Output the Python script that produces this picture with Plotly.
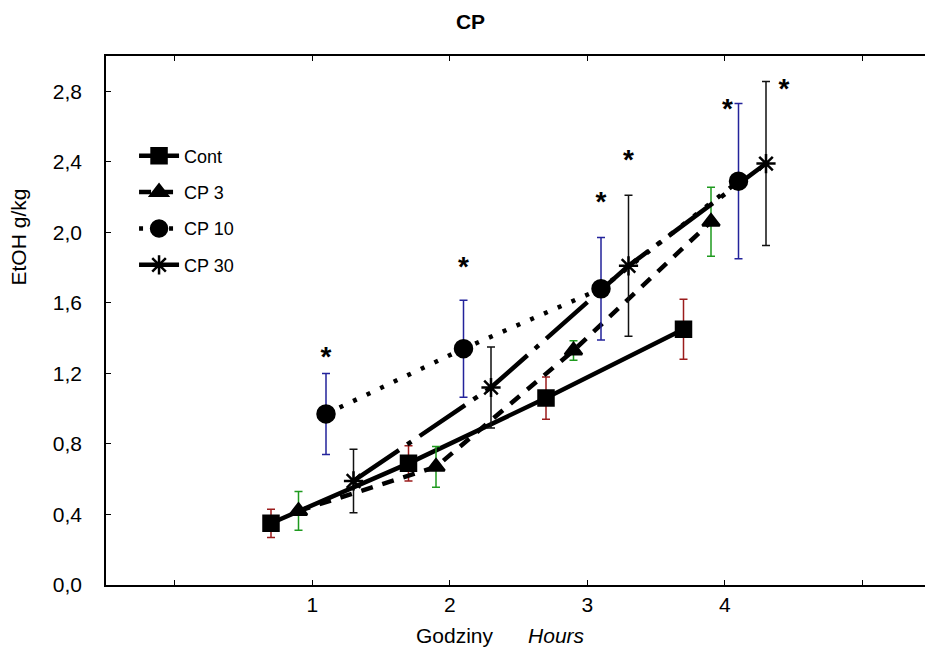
import plotly.graph_objects as go

# Measured EtOH (g/kg) at each hour, per group
hours = [1, 2, 3, 4]
offsets = {"Cont": -0.3, "CP 3": -0.1, "CP 10": 0.1, "CP 30": 0.3}

cont = [0.35, 0.69, 1.06, 1.45]
cont_err = [0.08, 0.10, 0.12, 0.17]

cp3 = [0.42, 0.67, 1.33, 2.06]
cp3_err = [0.11, 0.115, 0.055, 0.195]

cp10 = [0.97, 1.34, 1.68, 2.29]
cp10_err = [0.23, 0.275, 0.29, 0.44]

cp30 = [0.59, 1.12, 1.81, 2.39]
cp30_err = [0.18, 0.23, 0.40, 0.465]

# significance marks (*) above CP 10 / CP 30
star_x = [1.1, 2.1, 3.1, 3.3, 4.02, 4.43]
star_y = [1.28, 1.79, 2.16, 2.40, 2.69, 2.80]

series = [
    ("Cont", cont, cont_err, "square", "solid", "#9b1c1c", 15),
    ("CP 3", cp3, cp3_err, "triangle-up", "12px,10px", "#1f9a1f", 15),
    ("CP 10", cp10, cp10_err, "circle", "4px,11px", "#23239b", 17),
    ("CP 30", cp30, cp30_err, "asterisk-open", "55px,10px,5px,10px", "#111111", 16),
]

fig = go.Figure()

for name, vals, errs, sym, dash, ecol, msize in series:
    xs = [h + offsets[name] for h in hours]
    fig.add_trace(go.Scatter(
        x=xs, y=vals, name=name, mode="lines+markers", legendgroup=name,
        line=dict(color="black", width=4.5, dash=dash),
        marker=dict(symbol=sym, size=msize, color="black",
                    line=dict(color="black", width=2.5)),
        error_y=dict(type="data", array=errs, visible=True,
                     color=ecol, thickness=1.5, width=4),
    ))

fig.add_trace(go.Scatter(
    x=star_x, y=star_y, mode="text", text=["<b>*</b>"] * len(star_x),
    textfont=dict(size=28, color="black", family="Liberation Sans"),
    showlegend=False, hoverinfo="skip",
))

# page is drawn with an 8px body margin, so size the figure to fit the window
fig.update_layout(
    width=925, height=643,
    paper_bgcolor="white", plot_bgcolor="white",
    margin=dict(l=98, r=0, t=48, b=66),
    separators=", ",
    font=dict(family="Liberation Sans, Arial", size=20, color="black"),
    title=dict(text="<b>CP</b>", x=0.5, xanchor="center", y=0.978,
               yanchor="middle", font=dict(size=21)),
    showlegend=True,
    legend=dict(x=0.034, y=0.846, xanchor="left", yanchor="top",
                bgcolor="rgba(0,0,0,0)", font=dict(size=18),
                tracegroupgap=10, itemwidth=40),
    annotations=[
        dict(text="Godziny      <i>Hours</i>", xref="paper", yref="paper",
             x=0.478, y=-0.096, xanchor="center", yanchor="middle",
             showarrow=False, font=dict(size=21)),
        dict(text="EtOH g/kg", xref="paper", yref="paper", textangle=-90,
             x=-0.106, y=0.658, xanchor="center", yanchor="middle",
             showarrow=False, font=dict(size=21)),
    ],
)

fig.update_xaxes(
    range=[-0.5, 5.5], tickvals=[0, 1, 2, 3, 4, 5],
    ticktext=["", "1", "2", "3", "4", ""],
    ticks="inside", ticklen=5, tickcolor="black",
    showline=True, linecolor="black", linewidth=1.5, mirror="ticks",
    showgrid=False, zeroline=False, tickfont=dict(size=21),
)
fig.update_yaxes(
    range=[0, 3.0], tickvals=[0, 0.4, 0.8, 1.2, 1.6, 2.0, 2.4, 2.8],
    tickformat=".1f",
    ticks="inside", ticklen=5, tickcolor="black",
    showline=True, linecolor="black", linewidth=1.5, mirror="ticks",
    showgrid=False, zeroline=False, tickfont=dict(size=21),
    ticklabelstandoff=18,
)

fig.write_html("out.html")
